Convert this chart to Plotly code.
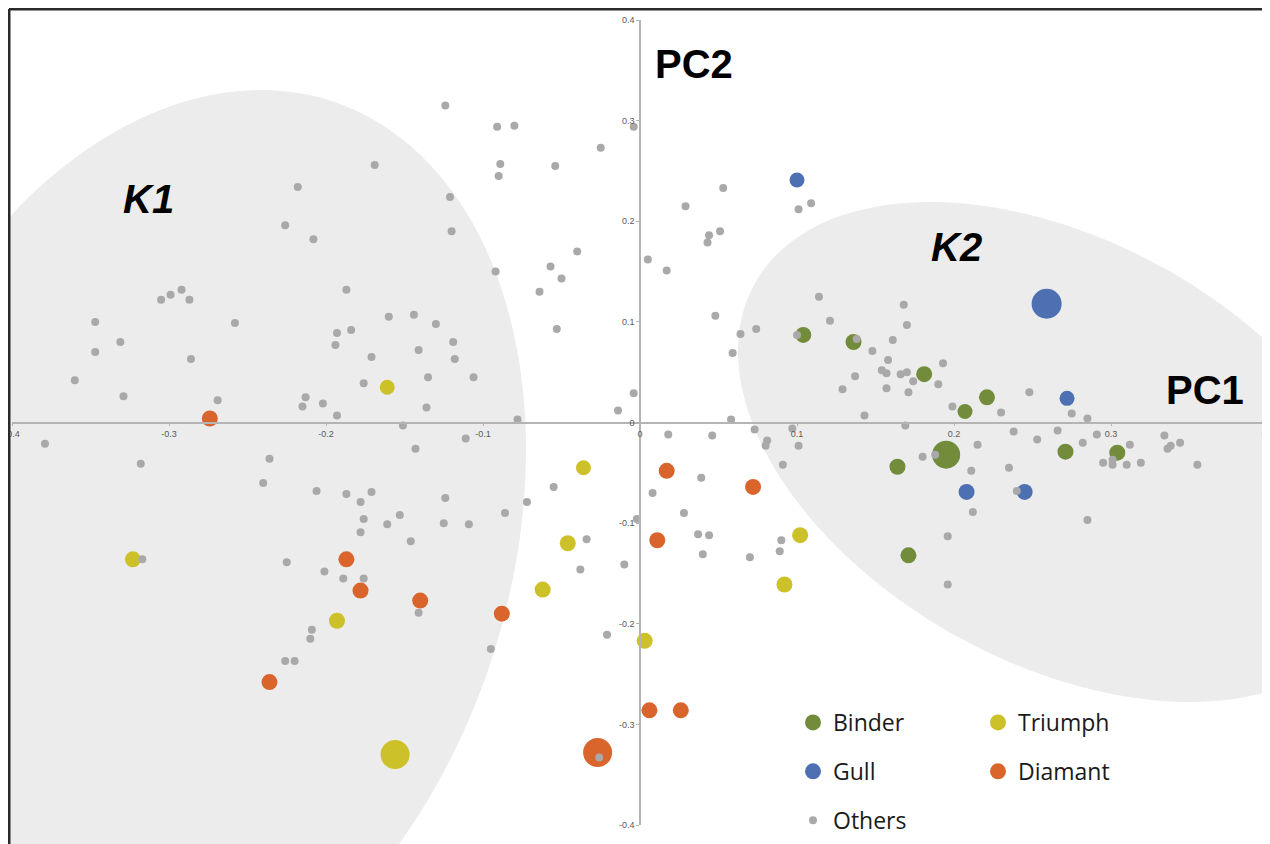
import numpy as np
import plotly.graph_objects as go

# The page body has an 8px margin, so the figure is drawn at (8, 8) of the window.
OFF = 8
W, H = 1270 - OFF, 844 - OFF
# plot area in window pixels: x 12..1268, y 20..825
ML, MR, MT, MB = 12 - OFF, 1270 - 1268, 20 - OFF, 844 - 825

# ---------------- data (PC1, PC2) ----------------
binder_x = [0.104, 0.136, 0.181, 0.221, 0.207, 0.164, 0.271, 0.304, 0.195, 0.171]
binder_y = [0.087, 0.080, 0.048, 0.025, 0.011, -0.044, -0.029, -0.030, -0.032, -0.132]
binder_s = [16, 16, 16, 16, 15, 16, 16, 16, 28, 16]

gull_x = [0.100, 0.259, 0.272, 0.208, 0.245]
gull_y = [0.241, 0.118, 0.024, -0.069, -0.069]
gull_s = [15, 30, 15, 16, 16]

triumph_x = [-0.161, -0.323, -0.193, -0.156, -0.036, -0.046, -0.062, 0.102, 0.092, 0.003]
triumph_y = [0.035, -0.136, -0.197, -0.330, -0.045, -0.120, -0.166, -0.112, -0.161, -0.217]
triumph_s = [15, 16, 16, 29, 15, 16, 16, 16, 16, 16]

diamant_x = [-0.274, -0.187, -0.178, -0.140, -0.236, -0.088, 0.011, 0.017, 0.072, 0.006, 0.026, -0.027]
diamant_y = [0.004, -0.136, -0.167, -0.177, -0.258, -0.190, -0.117, -0.048, -0.064, -0.286, -0.286, -0.328]
diamant_s = [16, 16, 16, 16, 16, 16, 16, 16, 16, 16, 16, 29]

others_x = [
    -0.169, -0.218, -0.226, -0.208, -0.187, -0.292, -0.299, -0.305, -0.287, -0.347,
    -0.258, -0.160, -0.144, -0.184, -0.193, -0.331, -0.194, -0.347, -0.141, -0.286,
    -0.171, -0.360, -0.176, -0.329, -0.269, -0.213, -0.215, -0.202, -0.193, -0.136,
    -0.124, -0.091, -0.080, -0.004, -0.025, -0.089, -0.054, -0.090, -0.121, -0.120,
    -0.040, -0.092, -0.057, -0.050, -0.064, -0.130, -0.053, -0.119, -0.118, -0.135,
    -0.106, -0.004, -0.014, -0.078,
    0.053, 0.029, 0.101, 0.109, 0.044, 0.043, 0.051, 0.005, 0.017, 0.114,
    0.121, 0.048, 0.074, 0.064, 0.100, 0.059, 0.129, 0.058,
    0.168, 0.170, 0.138, 0.161, 0.148, 0.158, 0.193, 0.154, 0.157, 0.166,
    0.170, 0.137, 0.174, 0.190, 0.157, 0.171, 0.248, 0.199, 0.230, 0.275,
    0.285, 0.143,
    0.169, 0.238, 0.266, 0.291, 0.334, 0.253, 0.282, 0.215, 0.312, 0.344,
    0.338, 0.336, 0.188, 0.180, 0.211, 0.235, 0.295, 0.301, 0.301, 0.310,
    0.319, 0.355, 0.240, 0.212, 0.285, 0.196, 0.196,
    -0.379, -0.318, -0.236, -0.240, -0.151, -0.143, -0.206, -0.187, -0.171, -0.178,
    -0.176, -0.178, -0.153, -0.161, -0.146, -0.317, -0.225, -0.201, -0.189, -0.176,
    -0.141, -0.209, -0.210, -0.226, -0.220,
    -0.111, 0.018, 0.046, 0.073, 0.097, 0.081, 0.080, 0.101, 0.091, 0.039,
    -0.055, -0.124, 0.008, -0.072, -0.086, 0.028, -0.125, -0.109, -0.002, -0.034,
    0.037, 0.044, 0.090, 0.089, 0.040, 0.070, -0.038, -0.010, -0.021, -0.095,
    -0.026,
]
others_y = [
    0.256, 0.234, 0.196, 0.182, 0.132, 0.132, 0.127, 0.122, 0.122, 0.100,
    0.099, 0.105, 0.107, 0.092, 0.089, 0.080, 0.077, 0.070, 0.072, 0.063,
    0.065, 0.042, 0.039, 0.026, 0.022, 0.025, 0.016, 0.019, 0.007, 0.015,
    0.315, 0.294, 0.295, 0.294, 0.273, 0.257, 0.255, 0.245, 0.224, 0.190,
    0.170, 0.150, 0.155, 0.143, 0.130, 0.098, 0.093, 0.080, 0.063, 0.045,
    0.045, 0.029, 0.012, 0.003,
    0.233, 0.215, 0.212, 0.218, 0.186, 0.179, 0.190, 0.162, 0.151, 0.125,
    0.101, 0.106, 0.093, 0.088, 0.087, 0.069, 0.033, 0.003,
    0.117, 0.097, 0.083, 0.082, 0.071, 0.062, 0.059, 0.052, 0.049, 0.048,
    0.050, 0.046, 0.041, 0.038, 0.034, 0.030, 0.030, 0.016, 0.010, 0.009,
    0.004, 0.007,
    -0.003, -0.009, -0.008, -0.012, -0.013, -0.017, -0.020, -0.022, -0.022, -0.020,
    -0.023, -0.026, -0.032, -0.034, -0.048, -0.045, -0.040, -0.042, -0.037, -0.042,
    -0.040, -0.042, -0.068, -0.089, -0.097, -0.113, -0.161,
    -0.021, -0.041, -0.036, -0.060, -0.003, -0.026, -0.068, -0.071, -0.069, -0.079,
    -0.096, -0.109, -0.092, -0.101, -0.118, -0.136, -0.139, -0.148, -0.155, -0.155,
    -0.189, -0.206, -0.215, -0.237, -0.237,
    -0.016, -0.012, -0.013, -0.007, -0.006, -0.018, -0.023, -0.023, -0.042, -0.055,
    -0.064, -0.075, -0.070, -0.079, -0.090, -0.090, -0.100, -0.101, -0.096, -0.116,
    -0.111, -0.112, -0.117, -0.128, -0.131, -0.134, -0.146, -0.141, -0.211, -0.225,
    -0.333,
]

tick_vals = [-0.4, -0.3, -0.2, -0.1, 0, 0.1, 0.2, 0.3, 0.4]
tick_text = ["-0.4", "-0.3", "-0.2", "-0.1", "0", "0.1", "0.2", "0.3", "0.4"]

C_BINDER = "#728c3b"
C_GULL = "#4d70b3"
C_TRIUMPH = "#cdc12a"
C_DIAMANT = "#d9652c"
C_OTHERS = "#a9a9a9"
C_CLUSTER = "#ececec"


def px2paper(px, py):
    """window pixel -> paper coordinates"""
    fx = px - OFF
    fy = py - OFF
    return (fx - ML) / (W - ML - MR), (H - MB - fy) / (H - MT - MB)


def ellipse_path(cx, cy, cov, xmin=None, n=180):
    L = np.linalg.cholesky(np.array(cov, dtype=float))
    t = np.linspace(0, 2 * np.pi, n, endpoint=False)
    pts = L @ np.vstack([np.cos(t), np.sin(t)])
    px = cx + pts[0]
    py = cy + pts[1]
    if xmin is not None:
        px = np.maximum(px, xmin)
    xs, ys = px2paper(px, py)
    return "M " + " L ".join(f"{a:.5f},{b:.5f}" for a, b in zip(xs, ys)) + " Z"


fig = go.Figure()


def add_group(name, xs, ys, sizes, color, legend):
    fig.add_trace(go.Scatter(
        x=xs, y=ys, mode="markers", name=name,
        marker=dict(size=sizes, color=color, opacity=1, line=dict(width=0)),
        legend=legend, legendgroup=name,
    ))


add_group("Binder", binder_x, binder_y, binder_s, C_BINDER, "legend")
add_group("Gull", gull_x, gull_y, gull_s, C_GULL, "legend")
add_group("Triumph", triumph_x, triumph_y, triumph_s, C_TRIUMPH, "legend2")
add_group("Diamant", diamant_x, diamant_y, diamant_s, C_DIAMANT, "legend2")
add_group("Others", others_x, others_y, 8, C_OTHERS, "legend")

shapes = []
# cluster ellipses (window-pixel geometry -> paper coords)
shapes.append(dict(type="path", xref="paper", yref="paper", layer="below",
                   path=ellipse_path(180, 560, [[119716, -38060], [-38060, 220900]], xmin=8),
                   fillcolor=C_CLUSTER, line=dict(width=0)))
shapes.append(dict(type="path", xref="paper", yref="paper", layer="below",
                   path=ellipse_path(1060, 452, [[103684, 32500], [32500, 62500]]),
                   fillcolor=C_CLUSTER, line=dict(width=0)))
# frame lines (top and left)
fx0, fy0 = px2paper(OFF + 1, OFF + 1)
fx1, fy1 = px2paper(1275, 850)
shapes.append(dict(type="line", xref="paper", yref="paper", x0=fx0, y0=fy0, x1=fx1, y1=fy0,
                   line=dict(color="#2a2a2a", width=3), layer="above"))
shapes.append(dict(type="line", xref="paper", yref="paper", x0=fx0, y0=fy0, x1=fx0, y1=fy1,
                   line=dict(color="#2a2a2a", width=3), layer="above"))

annotations = []


def add_label(text, px, py, size):
    x, y = px2paper(px, py)
    annotations.append(dict(text=text, x=x, y=y, xref="paper", yref="paper",
                            showarrow=False, xanchor="center", yanchor="middle",
                            font=dict(family="Liberation Sans, Arial, sans-serif",
                                      size=size, color="#000000")))


add_label("<b>PC2</b>", 694, 64, 40)
add_label("<b>PC1</b>", 1205, 390, 40)
add_label("<b><i>K1</i></b>", 148, 199, 40)
add_label("<b><i>K2</i></b>", 956, 247, 40)

axis_common = dict(
    range=[-0.4, 0.4], tickvals=tick_vals, ticktext=tick_text,
    showgrid=False, zeroline=False, showline=True,
    linecolor="#b4b4b4", linewidth=1.5, ticks="outside", ticklen=3,
    tickcolor="#b4b4b4", tickwidth=1,
    tickfont=dict(family="Liberation Sans, Arial, sans-serif", size=9, color="#5a5a5a"),
    anchor="free", position=0.5, fixedrange=True, automargin=False,
    ticklabeloverflow="allow",
)

lx1, ly1 = px2paper(793, 701)
lx2, ly2 = px2paper(978, 701)
legend_common = dict(
    xanchor="left", yanchor="top", orientation="v",
    font=dict(family="Open Sans, Noto Sans, sans-serif", size=23, color="#1a1a1a"),
    bgcolor="rgba(0,0,0,0)", borderwidth=0, tracegroupgap=16,
)

fig.update_layout(
    width=W, height=H,
    margin=dict(l=ML, r=MR, t=MT, b=MB, pad=0, autoexpand=False),
    paper_bgcolor="#ffffff", plot_bgcolor="rgba(0,0,0,0)",
    xaxis=axis_common, yaxis=axis_common,
    shapes=shapes, annotations=annotations,
    showlegend=True,
    legend=dict(x=lx1, y=ly1, **legend_common),
    legend2=dict(x=lx2, y=ly2, **legend_common),
)

fig.write_html("out.html")
